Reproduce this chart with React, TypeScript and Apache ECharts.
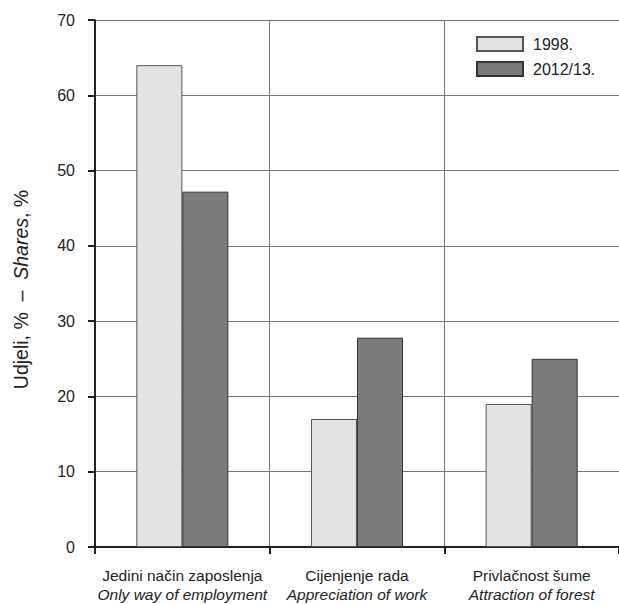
import React, { useEffect, useRef } from "react";
import * as echarts from "echarts";

const categoriesHr = ["Jedini način zaposlenja", "Cijenjenje rada", "Privlačnost šume"];
const categoriesEn = ["Only way of employment", "Appreciation of work", "Attraction of forest"];
const seriesNames = ["1998.", "2012/13."];
const values1998 = [64, 17, 19];
const values2012 = [47.2, 27.8, 25.0];

const FONT = "'Liberation Sans', Arial, sans-serif";

export default function App() {
  const ref = useRef<HTMLDivElement>(null);
  useEffect(() => {
    if (!ref.current) return;
    const chart = echarts.init(ref.current, null, { renderer: "svg" });
    chart.setOption({
      animation: false,
      textStyle: { fontFamily: FONT },
      grid: { left: 95, top: 20, bottom: 57, right: -4 },
      legend: {
        orient: "vertical",
        left: 471,
        top: 31,
        itemWidth: 46,
        itemHeight: 14,
        itemGap: 9,
        icon: "rect",
        textStyle: { fontSize: 16, color: "#222", fontFamily: FONT, padding: [0, 0, 0, 5] },
        data: seriesNames,
      },
      xAxis: {
        type: "category",
        data: categoriesHr,
        axisLine: { lineStyle: { color: "#222", width: 2 } },
        axisTick: { show: true, length: 7, interval: 0, lineStyle: { color: "#222", width: 2 } },
        splitLine: { show: true, interval: 0, lineStyle: { color: "#777", width: 1 } },
        axisLabel: {
          interval: 0,
          margin: 19,
          color: "#222",
          fontSize: 15.5,
          lineHeight: 19,
          fontFamily: FONT,
          formatter: (v: string, i: number) => `${v}\n{i|${categoriesEn[i]}}`,
          rich: { i: { fontStyle: "italic", fontSize: 15.5, lineHeight: 19, color: "#222", fontFamily: FONT } },
        },
      },
      yAxis: {
        type: "value",
        min: 0,
        max: 70,
        interval: 10,
        name: "Udjeli, %  –  {i|Shares}, %",
        nameLocation: "middle",
        nameGap: 64,
        nameTextStyle: {
          fontSize: 19.5,
          color: "#222",
          fontFamily: FONT,
          padding: [0, 12, 0, 0],
          rich: { i: { fontStyle: "italic", fontSize: 19.5, color: "#222", fontFamily: FONT } },
        },
        axisLine: { show: true, lineStyle: { color: "#222", width: 2 } },
        axisTick: { show: true, length: 7, lineStyle: { color: "#222", width: 2 } },
        splitLine: { show: true, lineStyle: { color: "#777", width: 1 } },
        axisLabel: { color: "#222", fontSize: 16, margin: 20, fontFamily: FONT },
      },
      series: [
        {
          name: seriesNames[0],
          type: "bar",
          data: values1998,
          barWidth: 46,
          barGap: "0%",
          itemStyle: { color: "#e3e3e3", borderColor: "#555", borderWidth: 1 },
        },
        {
          name: seriesNames[1],
          type: "bar",
          data: values2012,
          barWidth: 46,
          barGap: "0%",
          itemStyle: { color: "#7b7b7b", borderColor: "#333", borderWidth: 1 },
        },
      ],
    });
    return () => chart.dispose();
  }, []);
  return <div ref={ref} style={{ width: 619, height: 604, position: "absolute", left: 0, top: 0 }} />;
}
